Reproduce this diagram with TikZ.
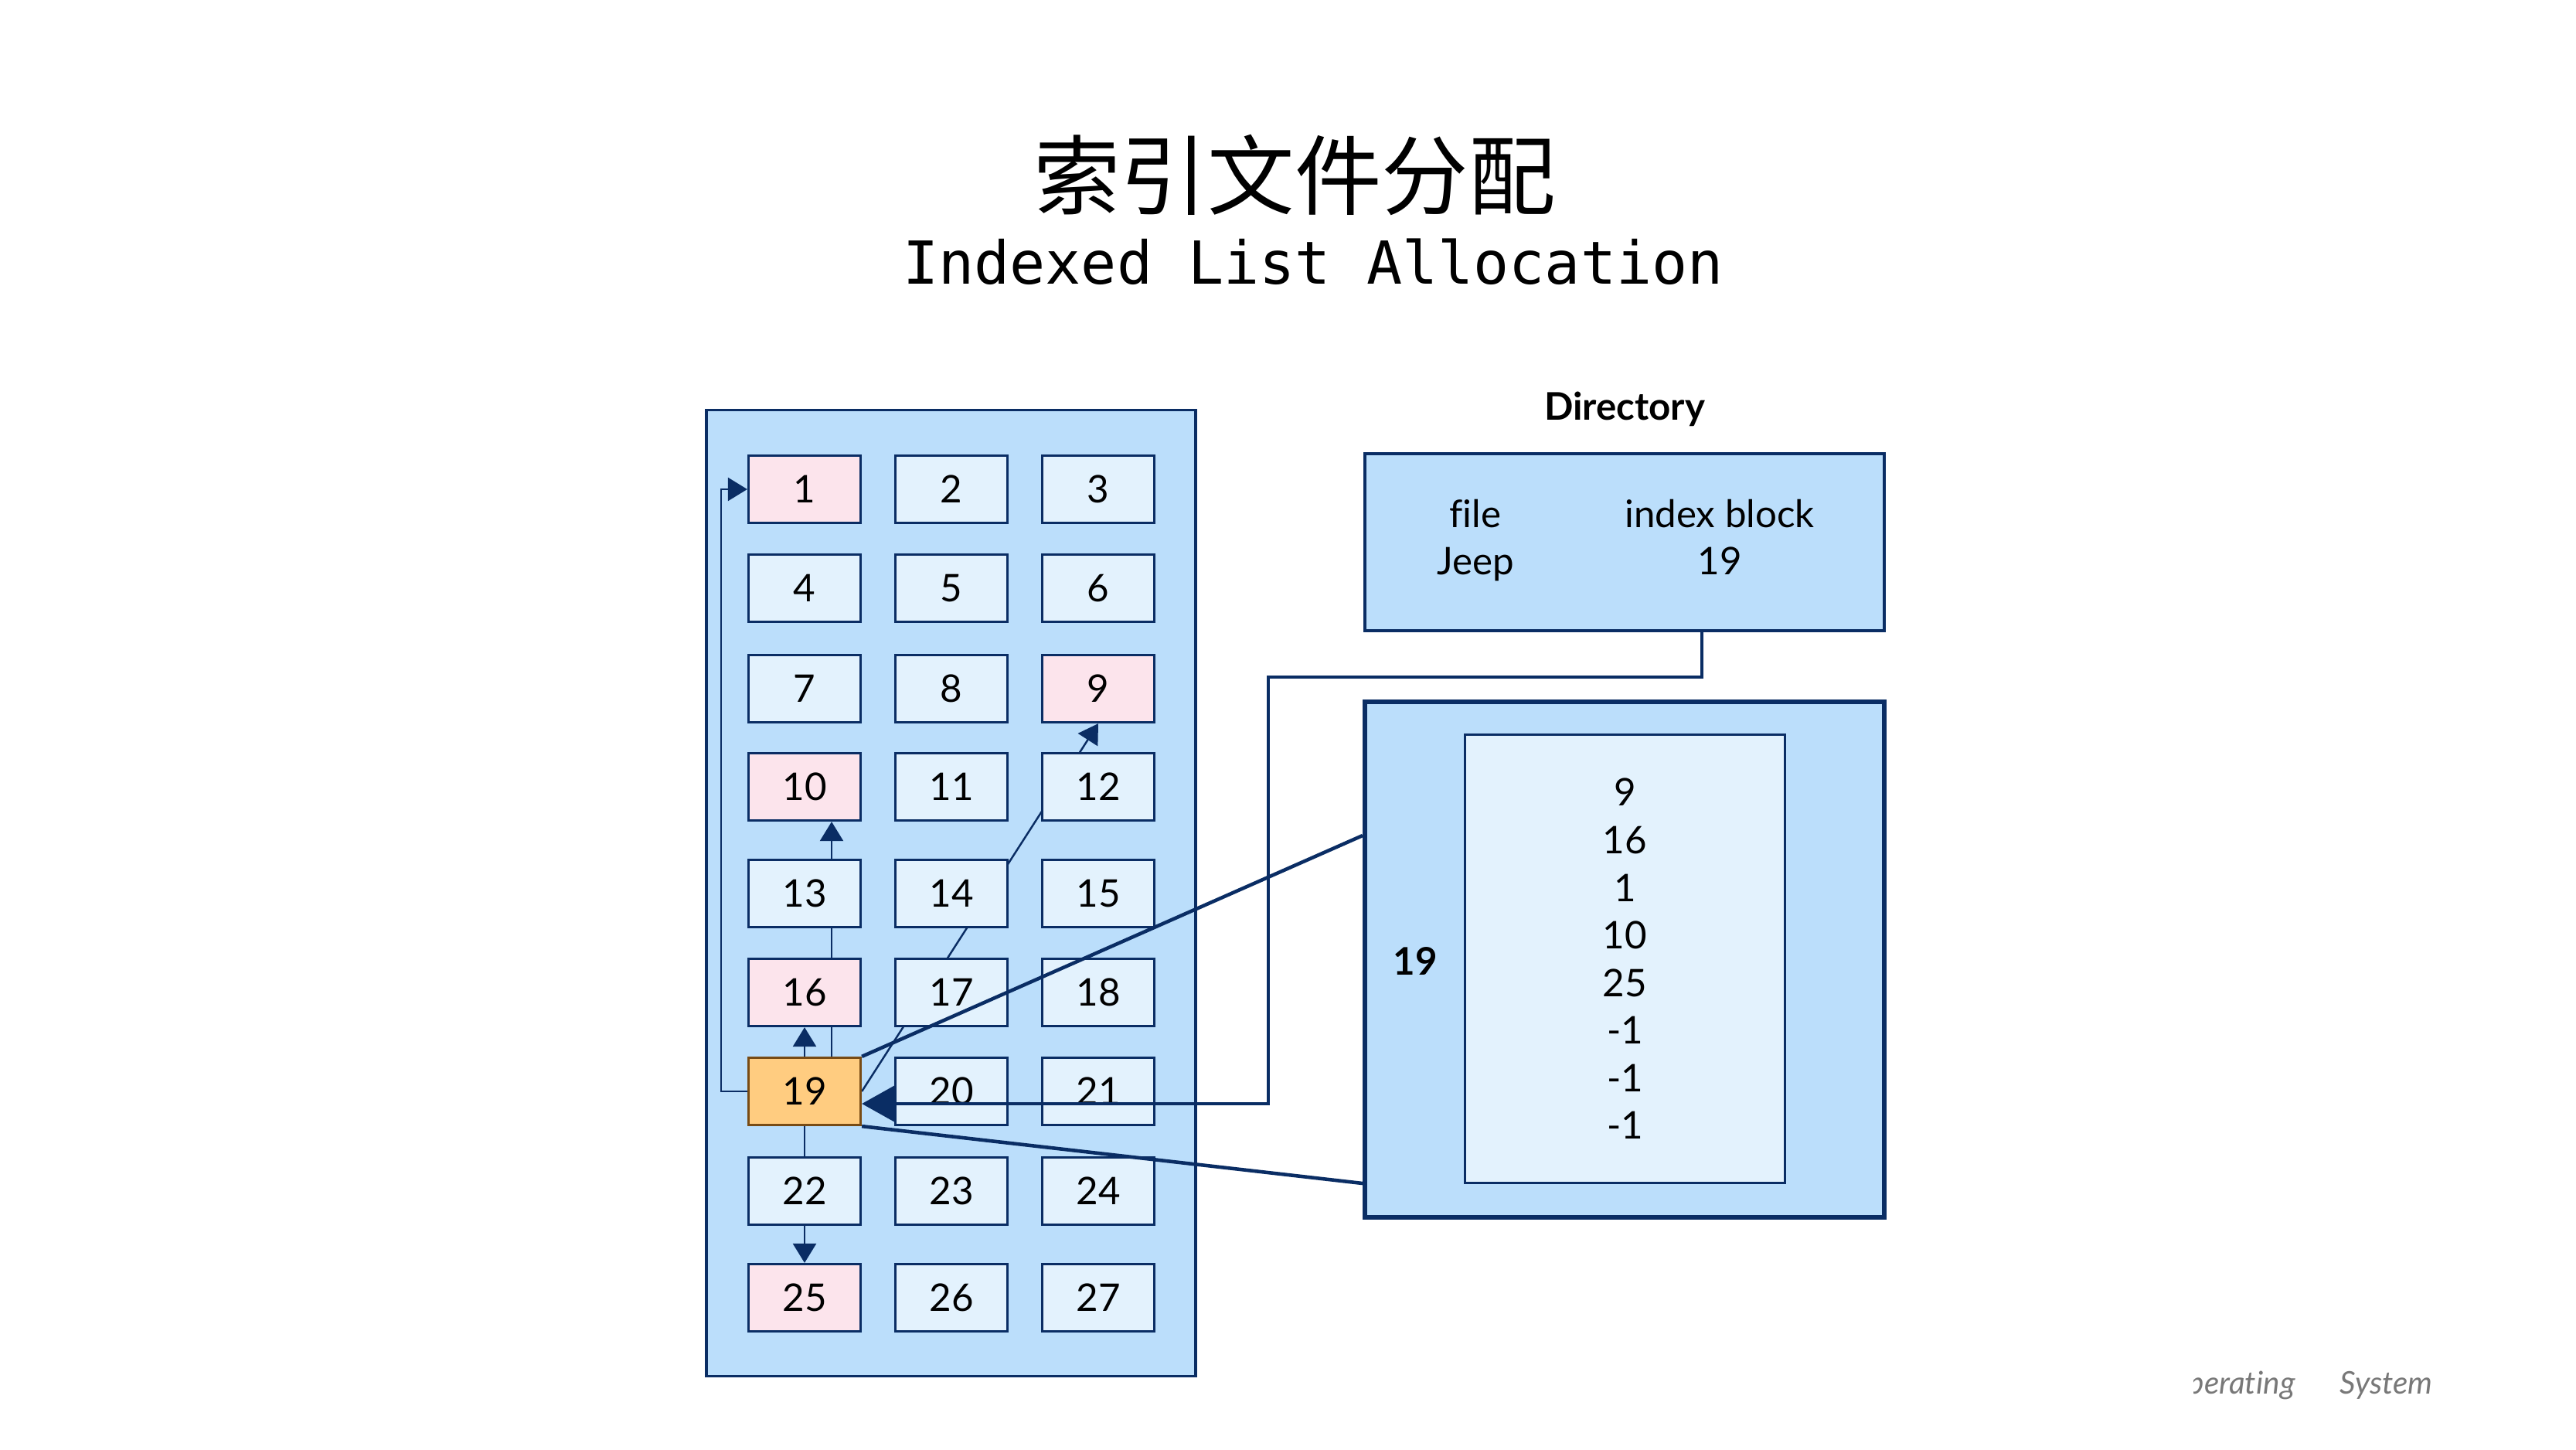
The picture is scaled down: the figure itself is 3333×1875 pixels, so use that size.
\documentclass[tikz,border=0pt]{standalone}
\usepackage{fontspec}
\setmainfont{Lato}[Ligatures={NoCommon}]
\newfontfamily\cjkfont{Noto Sans CJK SC}
\newfontfamily\monofont{DejaVu Sans Mono}
\usetikzlibrary{arrows.meta,calc}
\definecolor{navy}{RGB}{10,45,100}
\definecolor{panelblue}{HTML}{BBDEFB}
\definecolor{cellblue}{HTML}{E3F2FD}
\definecolor{cellpink}{HTML}{FCE4EC}
\definecolor{cellorange}{HTML}{FFCC80}
\definecolor{orangeedge}{RGB}{120,75,20}
\definecolor{footgray}{RGB}{120,120,120}
\pgfdeclarelayer{bg}
\pgfdeclarelayer{mid}
\pgfsetlayers{bg,mid,main}
\tikzset{
  cell/.style={draw=navy, line width=0.9pt, fill=cellblue, minimum width=1.45cm,
    minimum height=0.87cm, inner sep=0pt, font=\fontsize{14}{17}\selectfont},
  panel/.style={draw=navy, line width=1pt, fill=panelblue, inner sep=0pt},
  chain/.style={draw=navy, line width=0.7pt},
  chainarrow/.style={chain, -{Triangle[length=0.25cm,width=0.3cm]}},
  bigline/.style={draw=navy, line width=1.3pt},
  lbl/.style={font=\fontsize{14}{17}\selectfont, inner sep=0pt},
}
\begin{document}
\begin{tikzpicture}[x=0.01cm,y=-0.01cm]
\useasboundingbox (0,0) rectangle (3333,1875);
% titles
\node[font=\cjkfont\fontsize{32}{36}\selectfont, inner sep=0pt] (t1) at (1675,227) {索引文件分配};
\node[font=\monofont\fontsize{21.8}{26}\selectfont, inner sep=0pt] (t2) at (1699,339) {Indexed List Allocation};
% disk panel
\begin{pgfonlayer}{bg}
\node[panel, minimum width=6.33cm, minimum height=12.49cm] (panel) at (1230.5,1155.5) {};
\end{pgfonlayer}
% cells
\foreach \k in {1,...,27}{
  \pgfmathtruncatemacro\rr{div(\k-1,3)}
  \pgfmathtruncatemacro\cc{mod(\k-1,3)}
  \pgfmathsetmacro\xx{{1041,1231,1421}[\cc]}
  \pgfmathsetmacro\yy{{633,761,891,1018,1156,1284,1412,1541,1679}[\rr]}
  \def\fc{cellblue}\def\dc{navy}
  \ifnum\k=1 \def\fc{cellpink}\fi
  \ifnum\k=9 \def\fc{cellpink}\fi
  \ifnum\k=10 \def\fc{cellpink}\fi
  \ifnum\k=16 \def\fc{cellpink}\fi
  \ifnum\k=25 \def\fc{cellpink}\fi
  \ifnum\k=19 \def\fc{cellorange}\def\dc{orangeedge}\fi
  \node[cell, fill=\fc, draw=\dc] (b\k) at (\xx,\yy) {\k};
}
% chain links (behind cells)
\begin{pgfonlayer}{mid}
\draw[chainarrow] (b19.west) -- ++(-34,0) |- (b1.west);
\draw[chainarrow] (b19.north) -- (b16.south);
\draw[chainarrow] ($(b19.north)+(35,0)$) -- ($(b10.south)+(35,0)$);
\draw[chainarrow] (b19.south) -- (b25.north);
\draw[chainarrow] (b19.east) -- (b9.south);
\end{pgfonlayer}
% directory
\node[font=\bfseries\fontsize{14}{17}\selectfont, inner sep=0pt] (dirlbl) at (2102,529) {Directory};
\node[panel, minimum width=6.72cm, minimum height=2.29cm] (dir) at (2102,701.5) {};
\node[lbl, anchor=base] (f1) at (1909,682) {file};
\node[lbl, anchor=base] (f2) at (1909,743) {Jeep};
\node[lbl, anchor=base] (f3) at (2225,682) {index block};
\node[lbl, anchor=base] (f4) at (2225,743) {19};
% index block
\node[panel, line width=1.6pt, minimum width=6.72cm, minimum height=6.67cm] (idx) at (2102,1241.5) {};
\node[draw=navy, line width=0.8pt, fill=cellblue, minimum width=4.13cm, minimum height=5.79cm,
  align=center, inner sep=0pt, font=\fontsize{14}{17.5}\selectfont] (inner) at (2102.5,1240.5)
  {9\\16\\1\\10\\25\\-1\\-1\\-1};
\node[font=\bfseries\fontsize{14}{17}\selectfont, inner sep=0pt] (idxlbl) at (1831,1243) {19};
\coordinate (idxa) at ($(idx.north west)+(0,176)$);
\coordinate (idxb) at ($(idx.south west)+(0,-47)$);
\coordinate (dirout) at ($(dir.south)+(100,0)$);
% connectors on top
\draw[bigline] (b19.north east) -- (idxa);
\draw[bigline] (b19.south east) -- (idxb);
\draw[bigline, -{Triangle[length=0.44cm,width=0.48cm]}] (dirout) -- ++(0,58) -- ++(-561,0) |- ($(b19.east)+(0,16)$);
% footer
\begin{scope}
\clip (2838,1740) rectangle (3333,1850);
\node[anchor=base east, inner sep=0pt, text=footgray, font=\itshape\fontsize{11.5}{14}\selectfont] (foot) at (3148,1803) {Operating\hspace{0.58cm}System};
\end{scope}
\end{tikzpicture}
\end{document}
